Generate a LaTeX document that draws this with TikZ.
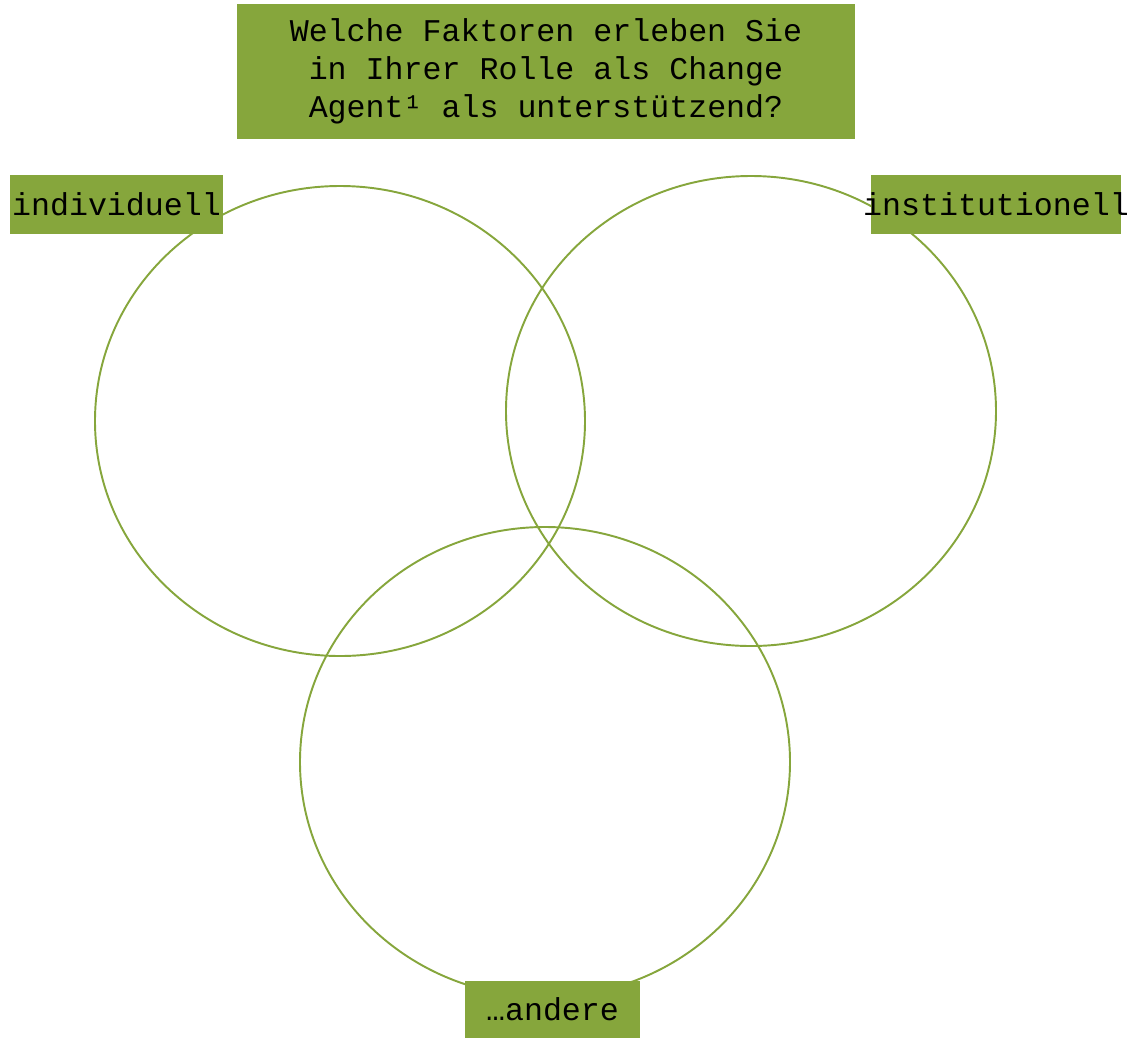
\documentclass[tikz,border=0pt]{standalone}
\usepackage{fontspec}
\setmainfont{Liberation Mono}
\usetikzlibrary{positioning}
\definecolor{gruen}{RGB}{134,166,60}

\begin{document}
\begin{tikzpicture}[x=0.02cm,y=-0.02cm,
    ring/.style = {draw=gruen, line width=1.1pt},
    box/.style = {fill=gruen, inner sep=0pt, font=\fontsize{18}{21.6}\selectfont, align=center}]
		\useasboundingbox (0,0) rectangle (1130,1039);
		% drei Kreise
		\draw[ring] (340,421) ellipse [x radius=245, y radius=235];
		\draw[ring] (751,411) ellipse [x radius=245, y radius=235];
		\draw[ring] (545,762) ellipse [x radius=245, y radius=235];
		% Beschriftungen
		\node[box, minimum width=12.36cm, minimum height=2.7cm] (frage) at (546,71.5)
			{Welche Faktoren erleben Sie\\in Ihrer Rolle als Change\\Agent¹ als unterstützend?};
		\node[box, minimum width=4.26cm, minimum height=1.18cm] (indiv) at (116.5,204.5)
			{\makebox[4.26cm]{individuell}};
		\node[box, minimum width=5cm, minimum height=1.18cm] (instit) at (996,204.5)
			{\makebox[5cm]{institutionell}};
		\node[box, minimum width=3.5cm, minimum height=1.14cm] (andere) at (552.5,1009.5)
			{…andere};
	\end{tikzpicture}
\end{document}
